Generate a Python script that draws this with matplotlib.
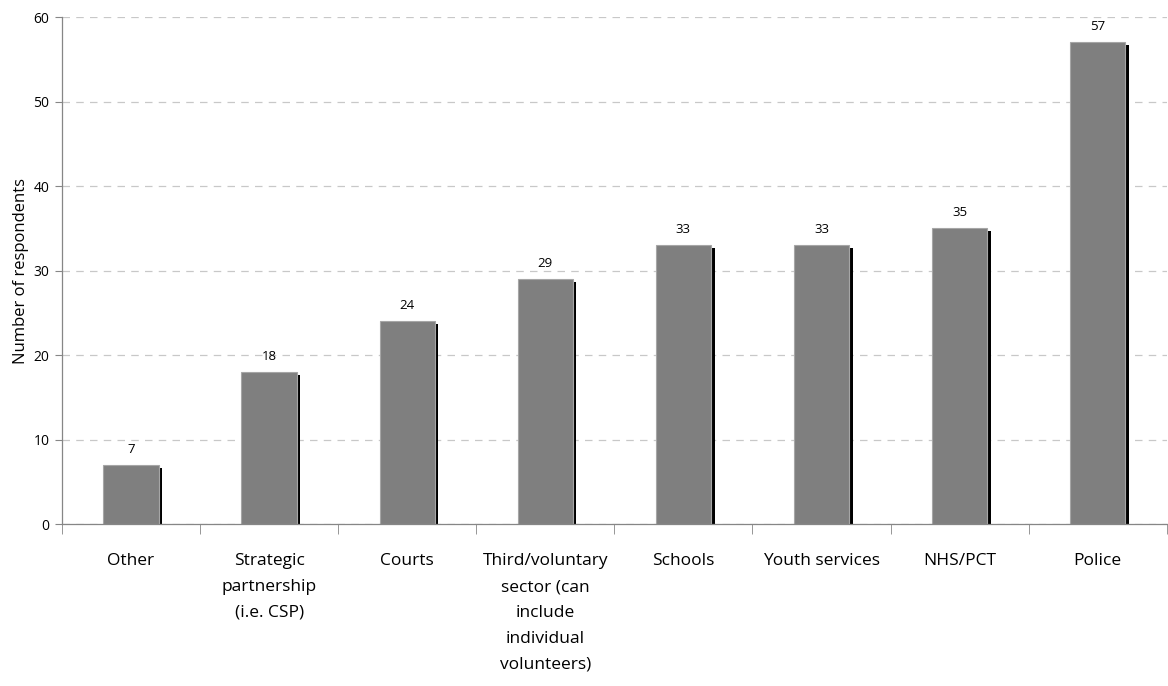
import matplotlib
matplotlib.use("Agg")
import matplotlib.pyplot as plt
import matplotlib.transforms as mtransforms
from matplotlib.ticker import FixedLocator
import numpy as np

categories = ["Other", "Strategic\npartnership\n(i.e. CSP)", "Courts",
              "Third/voluntary\nsector (can\ninclude\nindividual\nvolunteers)",
              "Schools", "Youth services", "NHS/PCT", "Police"]
values = [7, 18, 24, 29, 33, 33, 35, 57]
yticks = [0, 10, 20, 30, 40, 50, 60]

plt.rcParams['font.family'] = ['Open Sans', 'DejaVu Sans']

fig = plt.figure(figsize=(11.68, 6.86), dpi=100)
ax = fig.add_axes([0.053, 0.236, 0.946, 0.739])

x = np.arange(len(categories))
w = 0.4
shadow = ax.transData + mtransforms.ScaledTranslation(3.5/100, -3/100, fig.dpi_scale_trans)
ax.bar(x, values, width=w, color="black", transform=shadow, zorder=2)
ax.bar(x, values, width=w, color="#7f7f7f", edgecolor="#a6a6a6", linewidth=0.8, zorder=3)

for xi, v in zip(x, values):
    ax.text(xi, v + 1.1, str(v), ha="center", va="bottom", fontsize=9.5, color="black")

ax.set_xlim(-0.5, len(categories) - 0.5)
ax.set_ylim(0, 60)
ax.set_yticks(yticks)
ax.set_yticklabels([str(t) for t in yticks], fontsize=10)
ax.set_xticks(x)
ax.set_xticklabels(categories, fontsize=12.5, va="top")
for t in ax.get_xticklabels():
    t.set_linespacing(1.82)
ax.tick_params(axis="x", which="major", length=0, pad=21)
ax.xaxis.set_minor_locator(FixedLocator(np.arange(-0.5, len(categories), 1.0)))
ax.tick_params(axis="x", which="minor", length=7, color="#868686", direction="out")
ax.tick_params(axis="y", length=5, color="#868686", pad=4)

ax.grid(axis="y", linestyle=(0, (6, 5)), color="#c8c8c8", linewidth=0.9, zorder=0)
ax.set_axisbelow(True)
for s in ["top", "right"]:
    ax.spines[s].set_visible(False)
for s in ["left", "bottom"]:
    ax.spines[s].set_color("#868686")
    ax.spines[s].set_linewidth(0.9)
    ax.spines[s].set_zorder(4)

ax.set_ylabel("Number of respondents", fontsize=12, labelpad=3)

fig.savefig("out.png", dpi=100)
